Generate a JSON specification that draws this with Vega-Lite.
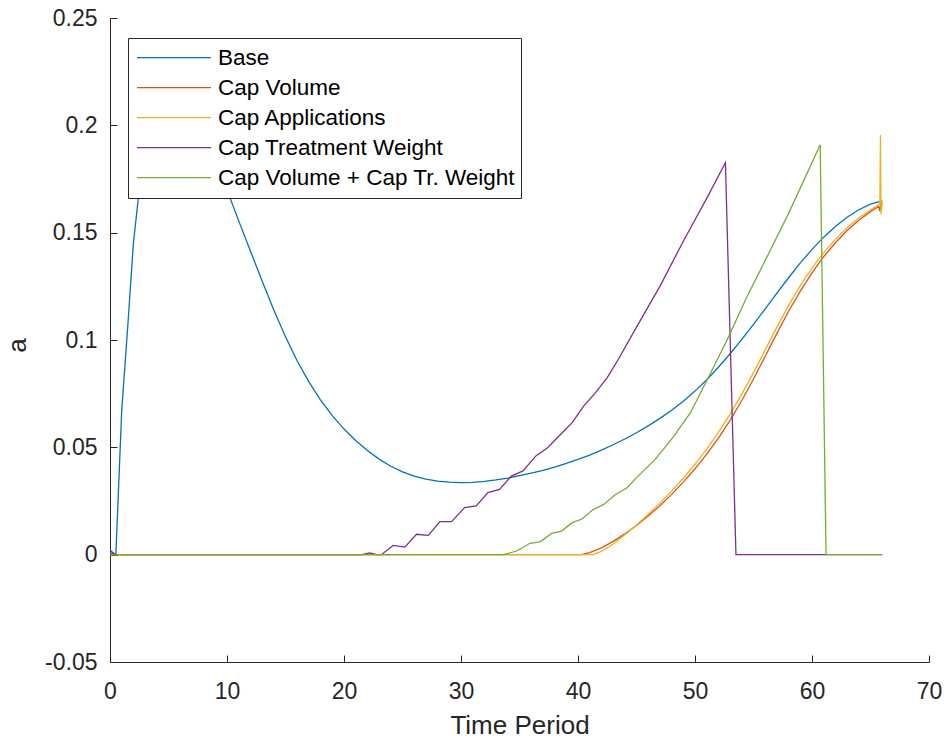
{
  "$schema": "https://vega.github.io/schema/vega-lite/v6.json",
  "width": 819,
  "height": 644,
  "autosize": {"type": "none"},
  "padding": {"left": 110, "top": 18, "right": 16, "bottom": 80},
  "background": "white",
  "config": {"view": {"stroke": null}, "font": "Liberation Sans"},
  "datasets": {
    "d": [
      {"s": "Base", "t": 0, "v": 0.001}, {"s": "Base", "t": 0.5, "v": 0}, {"s": "Base", "t": 1, "v": 0.067}, {"s": "Base", "t": 1.5, "v": 0.105}, {"s": "Base", "t": 2, "v": 0.145}, {"s": "Base", "t": 2.5, "v": 0.17}, {"s": "Base", "t": 3, "v": 0.186}, {"s": "Base", "t": 4, "v": 0.2}, {"s": "Base", "t": 5, "v": 0.205}, {"s": "Base", "t": 6, "v": 0.203}, {"s": "Base", "t": 7, "v": 0.197}, {"s": "Base", "t": 8, "v": 0.1895}, {"s": "Base", "t": 9, "v": 0.1805}, {"s": "Base", "t": 10, "v": 0.17}, {"s": "Base", "t": 11, "v": 0.1555}, {"s": "Base", "t": 12, "v": 0.1415}, {"s": "Base", "t": 13, "v": 0.1275}, {"s": "Base", "t": 14, "v": 0.114}, {"s": "Base", "t": 15, "v": 0.1015}, {"s": "Base", "t": 16, "v": 0.0902}, {"s": "Base", "t": 17, "v": 0.0805}, {"s": "Base", "t": 18, "v": 0.072}, {"s": "Base", "t": 19, "v": 0.0648}, {"s": "Base", "t": 20, "v": 0.0585}, {"s": "Base", "t": 21, "v": 0.0532}, {"s": "Base", "t": 22, "v": 0.0485}, {"s": "Base", "t": 23, "v": 0.0445}, {"s": "Base", "t": 24, "v": 0.0412}, {"s": "Base", "t": 25, "v": 0.0386}, {"s": "Base", "t": 26, "v": 0.0366}, {"s": "Base", "t": 27, "v": 0.0352}, {"s": "Base", "t": 28, "v": 0.0343}, {"s": "Base", "t": 29, "v": 0.0338}, {"s": "Base", "t": 30, "v": 0.0336}, {"s": "Base", "t": 31, "v": 0.0337}, {"s": "Base", "t": 32, "v": 0.0341}, {"s": "Base", "t": 33, "v": 0.0348}, {"s": "Base", "t": 34, "v": 0.0357}, {"s": "Base", "t": 35, "v": 0.0368}, {"s": "Base", "t": 36, "v": 0.038}, {"s": "Base", "t": 37, "v": 0.0393}, {"s": "Base", "t": 38, "v": 0.0408}, {"s": "Base", "t": 39, "v": 0.0425}, {"s": "Base", "t": 40, "v": 0.0444}, {"s": "Base", "t": 41, "v": 0.0464}, {"s": "Base", "t": 42, "v": 0.0487}, {"s": "Base", "t": 43, "v": 0.0512}, {"s": "Base", "t": 44, "v": 0.0539}, {"s": "Base", "t": 45, "v": 0.0568}, {"s": "Base", "t": 46, "v": 0.06}, {"s": "Base", "t": 47, "v": 0.0635}, {"s": "Base", "t": 48, "v": 0.0673}, {"s": "Base", "t": 49, "v": 0.0715}, {"s": "Base", "t": 50, "v": 0.0762}, {"s": "Base", "t": 51, "v": 0.0815}, {"s": "Base", "t": 52, "v": 0.0873}, {"s": "Base", "t": 53, "v": 0.0936}, {"s": "Base", "t": 54, "v": 0.1003}, {"s": "Base", "t": 55, "v": 0.1073}, {"s": "Base", "t": 56, "v": 0.1145}, {"s": "Base", "t": 57, "v": 0.1218}, {"s": "Base", "t": 58, "v": 0.129}, {"s": "Base", "t": 59, "v": 0.1359}, {"s": "Base", "t": 60, "v": 0.1422}, {"s": "Base", "t": 61, "v": 0.1479}, {"s": "Base", "t": 62, "v": 0.1529}, {"s": "Base", "t": 63, "v": 0.1572}, {"s": "Base", "t": 64, "v": 0.1607}, {"s": "Base", "t": 65, "v": 0.1633}, {"s": "Base", "t": 66, "v": 0.1648},

      {"s": "Cap Volume", "t": 0, "v": 0}, {"s": "Cap Volume", "t": 40.3, "v": 0}, {"s": "Cap Volume", "t": 41, "v": 0.001}, {"s": "Cap Volume", "t": 42, "v": 0.0032}, {"s": "Cap Volume", "t": 43, "v": 0.0062}, {"s": "Cap Volume", "t": 44, "v": 0.0097}, {"s": "Cap Volume", "t": 45, "v": 0.0136}, {"s": "Cap Volume", "t": 46, "v": 0.018}, {"s": "Cap Volume", "t": 47, "v": 0.0228}, {"s": "Cap Volume", "t": 48, "v": 0.0281}, {"s": "Cap Volume", "t": 49, "v": 0.0338}, {"s": "Cap Volume", "t": 50, "v": 0.04}, {"s": "Cap Volume", "t": 51, "v": 0.0468}, {"s": "Cap Volume", "t": 52, "v": 0.0543}, {"s": "Cap Volume", "t": 53, "v": 0.0626}, {"s": "Cap Volume", "t": 54, "v": 0.0718}, {"s": "Cap Volume", "t": 55, "v": 0.0818}, {"s": "Cap Volume", "t": 56, "v": 0.0924}, {"s": "Cap Volume", "t": 57, "v": 0.1031}, {"s": "Cap Volume", "t": 58, "v": 0.1134}, {"s": "Cap Volume", "t": 59, "v": 0.1228}, {"s": "Cap Volume", "t": 60, "v": 0.1313}, {"s": "Cap Volume", "t": 61, "v": 0.1388}, {"s": "Cap Volume", "t": 62, "v": 0.1453}, {"s": "Cap Volume", "t": 63, "v": 0.151}, {"s": "Cap Volume", "t": 64, "v": 0.1558}, {"s": "Cap Volume", "t": 65, "v": 0.1598}, {"s": "Cap Volume", "t": 65.7, "v": 0.1622}, {"s": "Cap Volume", "t": 65.8, "v": 0.16}, {"s": "Cap Volume", "t": 65.9, "v": 0.1645}, {"s": "Cap Volume", "t": 66, "v": 0.163},

      {"s": "Cap Applications", "t": 0, "v": 0}, {"s": "Cap Applications", "t": 41.3, "v": 0}, {"s": "Cap Applications", "t": 42, "v": 0.0015}, {"s": "Cap Applications", "t": 43, "v": 0.005}, {"s": "Cap Applications", "t": 44, "v": 0.0093}, {"s": "Cap Applications", "t": 45, "v": 0.0138}, {"s": "Cap Applications", "t": 46, "v": 0.0188}, {"s": "Cap Applications", "t": 47, "v": 0.024}, {"s": "Cap Applications", "t": 48, "v": 0.0296}, {"s": "Cap Applications", "t": 49, "v": 0.0356}, {"s": "Cap Applications", "t": 50, "v": 0.0421}, {"s": "Cap Applications", "t": 51, "v": 0.0492}, {"s": "Cap Applications", "t": 52, "v": 0.057}, {"s": "Cap Applications", "t": 53, "v": 0.0655}, {"s": "Cap Applications", "t": 54, "v": 0.0748}, {"s": "Cap Applications", "t": 55, "v": 0.0848}, {"s": "Cap Applications", "t": 56, "v": 0.0954}, {"s": "Cap Applications", "t": 57, "v": 0.106}, {"s": "Cap Applications", "t": 58, "v": 0.1161}, {"s": "Cap Applications", "t": 59, "v": 0.1253}, {"s": "Cap Applications", "t": 60, "v": 0.1335}, {"s": "Cap Applications", "t": 61, "v": 0.1407}, {"s": "Cap Applications", "t": 62, "v": 0.1469}, {"s": "Cap Applications", "t": 63, "v": 0.1523}, {"s": "Cap Applications", "t": 64, "v": 0.1568}, {"s": "Cap Applications", "t": 65, "v": 0.1606}, {"s": "Cap Applications", "t": 65.8, "v": 0.1633}, {"s": "Cap Applications", "t": 65.85, "v": 0.1955}, {"s": "Cap Applications", "t": 65.9, "v": 0.1585}, {"s": "Cap Applications", "t": 66, "v": 0.1645},

      {"s": "Cap Treatment Weight", "t": 0, "v": 0.002}, {"s": "Cap Treatment Weight", "t": 0.5, "v": 0}, {"s": "Cap Treatment Weight", "t": 21.5, "v": 0}, {"s": "Cap Treatment Weight", "t": 22.2, "v": 0.0008}, {"s": "Cap Treatment Weight", "t": 22.8, "v": 0}, {"s": "Cap Treatment Weight", "t": 23.2, "v": 0}, {"s": "Cap Treatment Weight", "t": 24.2, "v": 0.0043}, {"s": "Cap Treatment Weight", "t": 25.2, "v": 0.0035}, {"s": "Cap Treatment Weight", "t": 26.2, "v": 0.0095}, {"s": "Cap Treatment Weight", "t": 27.2, "v": 0.009}, {"s": "Cap Treatment Weight", "t": 28.2, "v": 0.0154}, {"s": "Cap Treatment Weight", "t": 29.2, "v": 0.0154}, {"s": "Cap Treatment Weight", "t": 30.3, "v": 0.0219}, {"s": "Cap Treatment Weight", "t": 31.3, "v": 0.0227}, {"s": "Cap Treatment Weight", "t": 32.3, "v": 0.0289}, {"s": "Cap Treatment Weight", "t": 33.3, "v": 0.0304}, {"s": "Cap Treatment Weight", "t": 34.3, "v": 0.0366}, {"s": "Cap Treatment Weight", "t": 35.3, "v": 0.039}, {"s": "Cap Treatment Weight", "t": 36.4, "v": 0.046}, {"s": "Cap Treatment Weight", "t": 37.4, "v": 0.0498}, {"s": "Cap Treatment Weight", "t": 38.5, "v": 0.056}, {"s": "Cap Treatment Weight", "t": 39.5, "v": 0.0615}, {"s": "Cap Treatment Weight", "t": 40.5, "v": 0.0693}, {"s": "Cap Treatment Weight", "t": 41.5, "v": 0.0755}, {"s": "Cap Treatment Weight", "t": 42.5, "v": 0.0825}, {"s": "Cap Treatment Weight", "t": 43.5, "v": 0.0915}, {"s": "Cap Treatment Weight", "t": 45, "v": 0.106}, {"s": "Cap Treatment Weight", "t": 47, "v": 0.125}, {"s": "Cap Treatment Weight", "t": 49, "v": 0.146}, {"s": "Cap Treatment Weight", "t": 51, "v": 0.166}, {"s": "Cap Treatment Weight", "t": 52.6, "v": 0.1826}, {"s": "Cap Treatment Weight", "t": 53.5, "v": 0}, {"s": "Cap Treatment Weight", "t": 66, "v": 0},

      {"s": "Cap Volume + Cap Tr. Weight", "t": 0, "v": 0}, {"s": "Cap Volume + Cap Tr. Weight", "t": 33.6, "v": 0}, {"s": "Cap Volume + Cap Tr. Weight", "t": 34.75, "v": 0.0017}, {"s": "Cap Volume + Cap Tr. Weight", "t": 35.9, "v": 0.0053}, {"s": "Cap Volume + Cap Tr. Weight", "t": 36.75, "v": 0.006}, {"s": "Cap Volume + Cap Tr. Weight", "t": 37.75, "v": 0.0099}, {"s": "Cap Volume + Cap Tr. Weight", "t": 38.6, "v": 0.011}, {"s": "Cap Volume + Cap Tr. Weight", "t": 39.5, "v": 0.0149}, {"s": "Cap Volume + Cap Tr. Weight", "t": 40.3, "v": 0.0165}, {"s": "Cap Volume + Cap Tr. Weight", "t": 41.3, "v": 0.021}, {"s": "Cap Volume + Cap Tr. Weight", "t": 42.2, "v": 0.0234}, {"s": "Cap Volume + Cap Tr. Weight", "t": 43.2, "v": 0.028}, {"s": "Cap Volume + Cap Tr. Weight", "t": 44.2, "v": 0.0312}, {"s": "Cap Volume + Cap Tr. Weight", "t": 45, "v": 0.0359}, {"s": "Cap Volume + Cap Tr. Weight", "t": 46.6, "v": 0.0444}, {"s": "Cap Volume + Cap Tr. Weight", "t": 48.1, "v": 0.0545}, {"s": "Cap Volume + Cap Tr. Weight", "t": 49.6, "v": 0.066}, {"s": "Cap Volume + Cap Tr. Weight", "t": 51, "v": 0.081}, {"s": "Cap Volume + Cap Tr. Weight", "t": 52.7, "v": 0.0995}, {"s": "Cap Volume + Cap Tr. Weight", "t": 54.4, "v": 0.1197}, {"s": "Cap Volume + Cap Tr. Weight", "t": 56, "v": 0.137}, {"s": "Cap Volume + Cap Tr. Weight", "t": 58, "v": 0.159}, {"s": "Cap Volume + Cap Tr. Weight", "t": 60.7, "v": 0.191}, {"s": "Cap Volume + Cap Tr. Weight", "t": 61.2, "v": 0}, {"s": "Cap Volume + Cap Tr. Weight", "t": 66, "v": 0}
    ]
  },
  "data": {"name": "d"},
  "mark": {"type": "line", "strokeWidth": 1.3, "clip": true},
  "encoding": {
    "x": {
      "field": "t", "type": "quantitative",
      "scale": {"domain": [0, 70], "nice": false, "zero": false},
      "axis": {
        "title": "Time Period", "values": [0, 10, 20, 30, 40, 50, 60, 70],
        "grid": false, "tickSize": -7, "labelPadding": 25,
        "domainColor": "#262626", "tickColor": "#262626", "labelColor": "#262626",
        "labelFontSize": 23, "labelFont": "Liberation Sans",
        "titleFontSize": 26, "titleFontWeight": "normal", "titleColor": "#262626", "titleFont": "Liberation Sans",
        "titleY": 50, "labelFlush": false, "labelOverlap": false
      }
    },
    "y": {
      "field": "v", "type": "quantitative",
      "scale": {"domain": [-0.05, 0.25], "nice": false, "zero": false},
      "axis": {
        "title": "a", "values": [-0.05, 0, 0.05, 0.1, 0.15, 0.2, 0.25],
        "labelExpr": "replace(format(datum.value, '~g'), '−', '-')",
        "grid": false, "tickSize": -7, "labelPadding": 20,
        "domainColor": "#262626", "tickColor": "#262626", "labelColor": "#262626",
        "labelFontSize": 23, "labelFont": "Liberation Sans",
        "titleFontSize": 26, "titleFontWeight": "normal", "titleColor": "#262626", "titleFont": "Liberation Sans",
        "titleX": -80, "titleY": 327, "labelFlush": false, "labelOverlap": false
      }
    },
    "color": {
      "field": "s", "type": "nominal",
      "scale": {
        "domain": ["Base", "Cap Volume", "Cap Applications", "Cap Treatment Weight", "Cap Volume + Cap Tr. Weight"],
        "range": ["#0072BD", "#D95319", "#EDB120", "#7E2F8E", "#77AC30"]
      },
      "legend": {
        "orient": "none", "legendX": 18, "legendY": 20, "title": null,
        "symbolType": "stroke", "symbolSize": 5476, "symbolStrokeWidth": 1.3,
        "labelFontSize": 22.5, "labelColor": "#000000", "labelFont": "Liberation Sans", "labelLimit": 0,
        "fillColor": "white", "strokeColor": "#262626", "padding": 5,
        "clipHeight": 29.3, "rowPadding": 0, "symbolOffset": 3, "labelOffset": 6
      }
    }
  }
}
